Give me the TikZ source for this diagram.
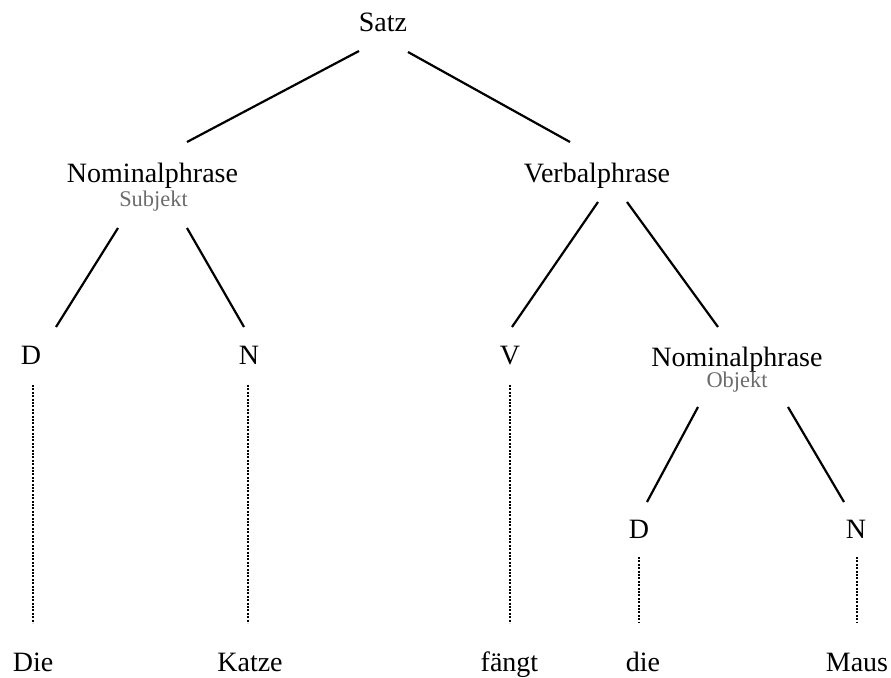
\documentclass[tikz,border=0pt]{standalone}
\usepackage{fontspec}
\setmainfont{Liberation Serif}
\usetikzlibrary{calc}

\begin{document}
\begin{tikzpicture}[x=0.5pt,y=-0.5pt,
    wort/.style={anchor=base,inner sep=0pt,font=\fontsize{14}{16}\selectfont},
    rolle/.style={anchor=base,inner sep=0pt,text=black!58,font=\fontsize{11.2}{13}\selectfont},
    ast/.style={line width=1.1pt},
    spur/.style={line width=1.1pt,dash pattern=on 1pt off 0.7pt}]
      \useasboundingbox (0,0) rectangle (891,678);
      % Knoten des Baums
      \node[wort] (satz) at (383,32) {Satz};
      \node[wort] (nps) at (152.5,183) {Nominalphrase};
      \node[rolle] (subj) at (153.5,207) {Subjekt};
      \node[wort] (vp) at (597,183) {Verbalphrase};
      \node[wort] (d1) at (31,365) {D};
      \node[wort] (n1) at (249,365) {N};
      \node[wort] (v) at (510,365) {V};
      \node[wort] (npo) at (737,367) {Nominalphrase};
      \node[rolle] (obj) at (737,388) {Objekt};
      \node[wort] (d2) at (639,539) {D};
      \node[wort] (n2) at (856,539) {N};

      % Woerter
      \node[wort] (die) at (33,672) {Die};
      \node[wort] (katze) at (250,672) {Katze};
      \node[wort] (faengt) at (509.5,672) {fängt};
      \node[wort] (die2) at (643,672) {die};
      \node[wort] (maus) at (857,672) {Maus};

      % Aeste
      \draw[ast] ($(satz.base)+(-24,19)$) -- ($(nps.base)+(34.5,-41)$);
      \draw[ast] ($(satz.base)+(25,20)$) -- ($(vp.base)+(-27,-41)$);
      \draw[ast] ($(nps.base)+(-34.5,45)$) -- ($(d1.base)+(25,-38)$);
      \draw[ast] ($(nps.base)+(34.5,45)$) -- ($(n1.base)+(-5,-38)$);
      \draw[ast] ($(vp.base)+(1,19)$) -- ($(v.base)+(2,-38)$);
      \draw[ast] ($(vp.base)+(30,19)$) -- ($(npo.base)+(-19,-40)$);
      \draw[ast] ($(npo.base)+(-39,40)$) -- ($(d2.base)+(8,-37)$);
      \draw[ast] ($(npo.base)+(51,40)$) -- ($(n2.base)+(-12,-37)$);

      % gepunktete Linien zu den Woertern
      \draw[spur] ($(d1.base)+(2,20)$) -- ($(d1.base |- die.base)+(2,-49)$);
      \draw[spur] ($(n1.base)+(-1,20)$) -- ($(n1.base |- katze.base)+(-1,-49)$);
      \draw[spur] ($(v.base)+(0,20)$) -- ($(v.base |- faengt.base)+(0,-49)$);
      \draw[spur] ($(d2.base)+(0,18)$) -- ($(d2.base |- die2.base)+(0,-49)$);
      \draw[spur] ($(n2.base)+(1,18)$) -- ($(n2.base |- maus.base)+(1,-49)$);
\end{tikzpicture}
\end{document}
